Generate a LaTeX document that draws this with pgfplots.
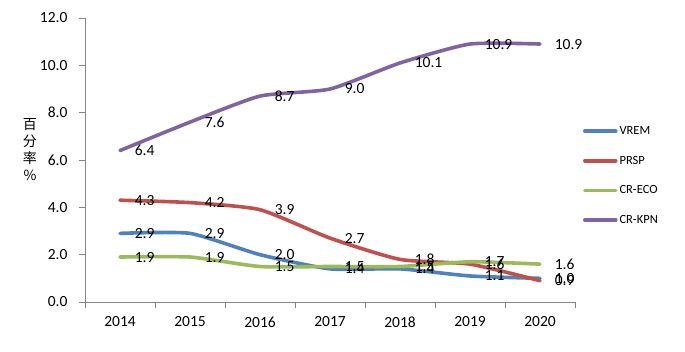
\documentclass[border=0pt]{standalone}
\usepackage{pgfplots}
\pgfplotsset{compat=1.18}
\usepackage{fontspec}
\setmainfont{Carlito}
\newfontfamily\cjk{Noto Sans CJK SC}
\definecolor{cblue}{HTML}{4F81BD}
\definecolor{cred}{HTML}{C0504D}
\definecolor{cgreen}{HTML}{9BBB59}
\definecolor{cpurple}{HTML}{8064A2}
\definecolor{axgray}{RGB}{134,134,134}
\begin{document}
\begin{tikzpicture}
\begin{axis}[
  scale only axis, width=490pt, height=284pt,
  xmin=-0.5, xmax=6.5, ymin=0, ymax=12,
  axis lines*=left,
  axis line style={axgray, line width=0.8pt},
  clip=false,
  tick align=outside,
  major tick length=6pt,
  tick style={axgray, line width=0.8pt},
  xtick={-0.5,0.5,...,6.5},
  xticklabels={},
  extra x ticks={0,1,2,3,4,5,6},
  extra x tick labels={2014,2015,2016,2017,2018,2019,2020},
  extra x tick style={major tick length=0pt, xticklabel style={yshift=-11pt}},
  ytick={0,2,...,12},
  /pgf/number format/assume math mode=true,
  yticklabel={\pgfmathprintnumber[fixed,fixed zerofill,precision=1]{\tick}},
  yticklabel style={xshift=-8pt},
  ticklabel style={font=\fontsize{15.5}{18}\selectfont, text=black},
  every axis plot/.append style={line width=3.6pt, line cap=round, smooth, tension=0.35},
  nodes near coords={\pgfmathprintnumber[fixed,fixed zerofill,precision=1]{\pgfplotspointmeta}},
  every node near coord/.append style={anchor=west, xshift=13pt, inner sep=0pt, font=\fontsize{15.5}{18}\selectfont, text=black},
  legend style={draw=none, fill=none, at={(1.016,0.445)}, anchor=west, font=\fontsize{12.5}{15}\selectfont, row sep=16pt, inner sep=0pt},
  legend cell align=left,
  legend image code/.code={\draw[#1, line width=3.5pt, line cap=round] (0pt,0pt) -- (31pt,0pt);},
]
\coordinate (O) at (rel axis cs:0,0);
\addplot[cblue, mark=none] coordinates {(0,2.9) (1,2.9) (2,2.0) (3,1.4) (4,1.4) (5,1.1) (6,1.0)};
\addlegendentry{VREM}
\addplot[cred, mark=none] coordinates {(0,4.3) (1,4.2) (2,3.9) (3,2.7) (4,1.8) (5,1.6) (6,0.9)};
\addlegendentry{PRSP}
\addplot[cgreen, mark=none] coordinates {(0,1.9) (1,1.9) (2,1.5) (3,1.5) (4,1.5) (5,1.7) (6,1.6)};
\addlegendentry{CR-ECO}
\addplot[cpurple, mark=none] coordinates {(0,6.4) (1,7.6) (2,8.7) (3,9.0) (4,10.1) (5,10.9) (6,10.9)};
\addlegendentry{CR-KPN}
\node[font=\cjk\fontsize{14}{17}\selectfont, align=center, inner sep=0pt] at (rel axis cs:0,0.535) [xshift=-55pt] {百\\分\\率\\\%};
\end{axis}
\pgfresetboundingbox
\path (O) ++(-85pt,-49pt) rectangle ++(685pt,351pt);
\end{tikzpicture}
\end{document}
